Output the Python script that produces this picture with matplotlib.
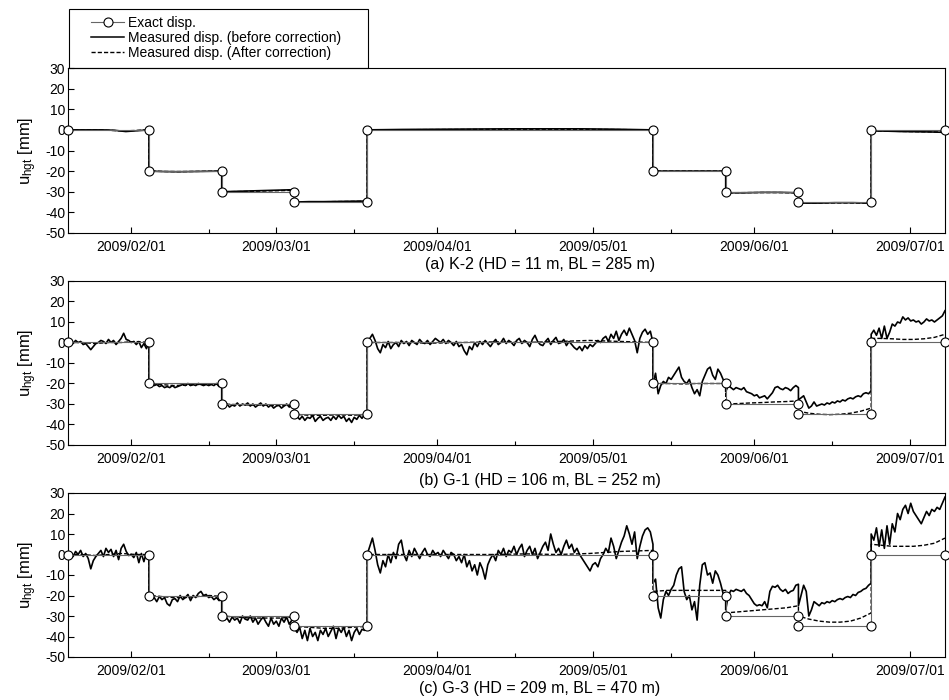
import numpy as np
import pandas as pd
import matplotlib
matplotlib.use('Agg')
import matplotlib.pyplot as plt
import matplotlib.dates as mdates
from matplotlib.lines import Line2D
from matplotlib.patches import Rectangle

plt.rcParams['font.family'] = ['Liberation Sans', 'DejaVu Sans']
plt.rcParams['mathtext.default'] = 'regular'
plt.rcParams['axes.unicode_minus'] = False

######################################################################
# data: load-step boundaries and exact displacement of each segment
######################################################################

step_times = ['2009-01-19 22:00', '2009-02-04 12:00', '2009-02-18 12:00',
              '2009-03-04 12:00', '2009-03-18 12:00', '2009-05-12 12:00',
              '2009-05-26 12:00', '2009-06-09 12:00', '2009-06-23 12:00',
              '2009-07-07 17:00']
exact_levels = [0, -20, -30, -35, 0, -20, -30, -35, 0]

titles = ['(a) K-2 (HD = 11 m, BL = 285 m)',
          '(b) G-1 (HD = 106 m, BL = 252 m)',
          '(c) G-3 (HD = 209 m, BL = 470 m)']

# K-2 measured (before / after correction), one list per segment
k2_before = [
    [0, 0, 0, 0, -0.2, -0.8, -0.4, 0],
    [-20, -20.2, -20.3, -20.2, -20.1, -20],
    [-30, -29.8, -29.6, -29.4, -29.2, -29],
    [-35, -34.8, -34.8, -34.7, -34.6, -34.5],
    [0, 0.2, 0.3, 0.4, 0.5, 0.5, 0.5, 0.3, 0],
    [-20, -20, -20, -20, -20],
    [-30.5, -30.5, -30.3, -30.3, -30.5],
    [-35.5, -35.5, -35.3, -35.3, -35.5],
    [-0.5, -0.6, -0.8, -0.9, -1.0, -1.2],
]
k2_after = [
    [0, 0, 0, -0.2, -0.5, -0.3, 0],
    [-20, -20.2, -20.2, -20.1, -20],
    [-30, -29.9, -29.7, -29.5, -29.3],
    [-35, -34.9, -34.8, -34.7, -34.6],
    [0, 0.1, 0.2, 0.3, 0.3, 0.2, 0],
    [-20, -20, -20, -20],
    [-30.5, -30.4, -30.4, -30.5],
    [-35.5, -35.4, -35.4, -35.5],
    [-0.5, -0.7, -0.9, -1.1],
]

# G-1 measured
g1_before = [
    [0, 0.5, -0.5, 1, 0, 0.5, -1, -0.5, -2, -3.5, -2, -0.5, 0, 1, 0.5, -0.5, 1.5,
     0, 1, -1, 0.5, 2, 4.5, 1.5, 1, 0, 0.5, -1, 0.5, -2.5, -0.5, -3, 0],
    [-20, -20.5, -21, -20.5, -21.5, -21, -22, -21.5, -22, -21, -22, -21.5, -21,
     -20.5, -21, -20, -21, -20.5, -21, -20, -20.5, -21, -20.5, -21, -20.5, -21,
     -20, -21.5, -20.5],
    [-30, -31, -30, -31.5, -30.5, -31, -29.5, -31, -30, -30.5, -29.5, -31, -30,
     -31.5, -30.5, -29.5, -31, -30, -31.5, -30.5, -32, -31, -30.5, -32, -31, -30,
     -31.5, -30.5, -30],
    [-35, -36, -37.5, -36, -38, -36.5, -37, -35.5, -38.5, -37, -36, -38, -37,
     -36.5, -38, -36, -37.5, -35.5, -37, -36, -38.5, -37, -39, -36.5, -37.5,
     -35.5, -37, -35, -35.5],
    [0, 2, 4, 1, -3, -5, -1, -2.5, 0.5, -3, -1, 0, -2, 1, -0.5, 0.5, -1.5, 1, 0,
     -1, 1.5, 0, -0.5, 1, -1, 0.5, 2,
     1, 0, 1.5, -0.5, 1, 0, -1.5, 0.5, -2, -1, -4, -6, -2, -3.5, 0, -2, 0.5, -1,
     1, -0.5, -2, 0, 1.5, -1, 0, 2, -0.5, 1,
     0, -1.5, 1, 2, -0.5, 1, 0, -2, 1.5, 3.5, 0.5, -1, -1.5, 0.5, 2, -1, 1, 2.5,
     -0.5, 0, 1.5, -1.5, 0.5, -1, -2.5, -3.5, -2, -4, -1.5, -3, -1, -2,
     -0.5, 1, 0, 2, 3, 0.5, 4, 2, 5.5, 1, 4, 6, 3.5, 7, 4, 1, -5, 2, 5, 6.5, 4,
     5.5, 0],
    [-20, -15, -25, -21, -19, -20, -17, -18, -16, -14, -12, -17, -19, -20, -18,
     -22, -25, -23, -26, -19, -16, -13, -12, -16, -18, -13, -15, -18, -20],
    [-24, -21, -22, -23, -22, -22.5, -23, -22, -24, -24.5, -25, -26, -25.5, -27,
     -26.5, -26, -27.5, -26, -24.5, -22, -21.5, -22.5, -23, -22, -22.5, -23.5,
     -22, -21, -22],
    [-28, -27, -26, -29, -32, -31, -29, -31, -30.5, -30, -30.5, -29.5, -30, -29,
     -29.5, -28.5, -29, -28, -28.5, -27.5, -27, -27.5, -26.5, -26, -26.5, -25,
     -24.5, -25, -23.5],
    [4, 6, 3.5, 7, 2, 8, 2, 5, 9, 8, 10, 9.5, 12.5, 11, 12, 10.5, 11, 10, 10.5,
     9, 10, 11.5, 10.5, 11, 10, 11, 12, 13, 15.5],
]
g1_after = [
    [0, 0, -0.5, 0, 0, 0.5, 0],
    [-20, -20.5, -21, -20.8, -20.5, -20.3, -20.5],
    [-30, -30.3, -30.5, -30.5, -30.8, -30.5],
    [-35, -35.5, -35.5, -35.3, -35.5, -35],
    [0, 0, -0.3, 0, 0.3, 0, 0.5, 1, 0.5, 0],
    [-20, -20, -20.2, -20, -20, -20],
    [-30, -29.8, -29.5, -29.3, -29, -28.8, -28.5],
    [-33.5, -34.5, -35, -35.2, -35, -34.5, -33.5, -32],
    [2, 2, 1.8, 1.5, 1.5, 1.8, 2.5, 4],
]

# G-3 measured
g3_before = [
    [0, 1, -1, 1.5, 0, 2, -1, 0.5, -2, -7, -3, -1, 0.5, 2, -1, 3, 1, 2.5, -1, 2,
     -2.5, 3, 5, 1.5, -0.5, 0, -1.5, 1, -4, 0.5, -3.5, 1, 0],
    [-20, -22, -21, -23, -20.5, -22, -21, -24, -25, -22, -21.5, -23, -20, -22,
     -21, -19.5, -22.5, -20, -21, -19, -18, -20, -19.5, -21, -20.5, -22, -21,
     -22.5, -21],
    [-30, -32, -31, -33, -30.5, -32, -31, -33.5, -30, -31.5, -32, -30, -33, -31,
     -34, -32, -30.5, -33, -35, -31, -34, -32.5, -35, -31, -33, -30.5, -34, -32,
     -31],
    [-36, -38, -35.5, -41, -37, -42, -36, -40, -38, -42, -37, -39, -36, -40,
     -37.5, -35, -41, -36, -38, -35.5, -40, -37, -42, -38, -36, -39, -36.5, -37,
     -35.5],
    [0, 4, 8, 2, -5, -9, -3, -6, 0, -4, 1, -2, 5, 7, 0, -3, 2, -1, 3, 0.5, -2, 1,
     3, 0, -1, 2, 0,
     1, -1, 2, 0, -2, 1, 0, -3, -1, -4, 0, -6, -3, -8, -5, -10, -4, -7, -12, -5,
     -2, 0, -3, 2, 0, 3, -1, 2,
     1, 4, 0, 3, 5, -1, 2, 4, 0, 3, -2, 1, 4, 6, 2, 10, 5, 1, 3, 0, 4, 7, 3, 5,
     1, 3, 0, -2, -4, -6, -8, -5,
     -4, -6, -2, 0, 3, 1, 8, 4, -2, 2, 6, 9, 14, 10, 5, 11, -2, 4, 9, 12, 13, 11,
     5],
    [-14, -12, -26, -31, -22, -18, -20, -17, -15, -10, -7, -6, -18, -22, -20,
     -27, -23, -32, -15, -5, -4, -10, -9, -14, -8, -10, -14, -19, -20],
    [-27, -20, -17.5, -18, -17, -17.5, -18, -17, -19, -20, -22, -24, -25, -24.5,
     -25, -23, -26, -18, -15.5, -16, -15, -17, -18, -17, -19, -18, -17.5, -15,
     -14.5],
    [-25, -20, -15, -18, -30, -27, -23, -24, -25, -23.5, -24, -23, -23.5, -22.5,
     -23, -22, -21.5, -22, -21, -20.5, -21, -19.5, -20, -18.5, -18, -17, -16.5,
     -15, -14],
    [10, 7, 13, 4, 12, 3, 14, 5, 15, 11, 20, 17, 22, 24, 20, 25, 21, 19, 17, 15,
     18, 21, 19, 22, 21, 23, 22, 25, 28],
]
g3_after = [
    [0, 0, -0.5, 0, 0.5, 0, 0],
    [-20, -20.5, -21, -21, -20.5, -20, -20.5],
    [-30, -30.5, -31, -31, -31, -30.5],
    [-35, -35.5, -36, -36, -35.5, -35],
    [0, 0, 0, 0, 0, 0.3, 0, 0.5, 1.5, 2],
    [-18, -17.5, -17.5, -17.5, -17.5, -17.5],
    [-28.5, -28, -27.5, -27, -26.5, -26, -25],
    [-30, -31.5, -32.5, -33, -33, -32.5, -31, -28.5],
    [5, 4.5, 4, 4, 4, 4.5, 5.5, 8],
]

######################################################################
# helpers
######################################################################

bounds = mdates.date2num(pd.to_datetime(step_times).to_pydatetime())

def segments_to_series(segs):
    t = []
    v = []
    for i in range(len(segs)):
        t.append(np.linspace(bounds[i], bounds[i+1], len(segs[i])))
        v.append(np.array(segs[i], dtype=float))
    return np.concatenate(t), np.concatenate(v)

ex_t = np.repeat(bounds, 2)[1:-1]
ex_v = np.repeat(exact_levels, 2)

exact_kw = dict(color='0.4', lw=0.8, marker='o', ms=6.5, mfc='white',
                mec='black', mew=0.8)

######################################################################
# figure
######################################################################

fig = plt.figure(figsize=(9.49, 7.0), dpi=100)
W, H = 949.0, 700.0
left = 68/W
width = 877/W
axes_px = [(68, 233), (281, 445), (493, 657)]
title_y = [265, 480, 688]
panels = [(k2_before, k2_after), (g1_before, g1_after), (g3_before, g3_after)]

for p in range(3):
    top, bot = axes_px[p]
    ax = fig.add_axes([left, 1-bot/H, width, (bot-top)/H])
    before, after = panels[p]
    tb, vb = segments_to_series(before)
    ta, va = segments_to_series(after)
    ax.plot(tb, vb, color='black', lw=1.2, zorder=3)
    ax.plot(ta, va, color='black', lw=1.0, ls=(0, (3, 1.5)), zorder=3)
    ax.plot(ex_t, ex_v, zorder=4, clip_on=False, **exact_kw)

    ax.set_xlim(bounds[0], bounds[-1])
    ax.set_ylim(-50, 30)
    ax.set_yticks(np.arange(-50, 31, 10))
    ax.xaxis.set_major_locator(mdates.MonthLocator(bymonthday=1))
    ax.xaxis.set_minor_locator(mdates.MonthLocator(bymonthday=16))
    ax.xaxis.set_major_formatter(mdates.DateFormatter('%Y/%m/%d'))
    ax.tick_params(axis='both', which='major', direction='in', length=4,
                   labelsize=10, width=0.8)
    ax.tick_params(axis='x', which='minor', direction='in', length=3, width=0.8)
    ax.tick_params(axis='x', which='major', pad=5)
    ax.tick_params(axis='y', which='major', pad=2)
    for s in ax.spines.values():
        s.set_linewidth(0.8)
    ax.set_ylabel(r'u$_{hgt}$ [mm]', fontsize=12, labelpad=4)
    fig.text(540/W, 1-title_y[p]/H, titles[p], fontsize=11.5,
             ha='center', va='center')

# legend with its own box above panel (a)
handles = [Line2D([], [], **exact_kw),
           Line2D([], [], color='black', lw=1.1),
           Line2D([], [], color='black', lw=1.0, ls=(0, (3, 1.5)))]
labels = ['Exact disp.', 'Measured disp. (before correction)',
          'Measured disp. (After correction)']
fig.legend(handles, labels, loc='upper left', bbox_to_anchor=(91/W, 1-16/H),
           frameon=False, fontsize=10, handlelength=2.4, handletextpad=0.3,
           labelspacing=0.08, borderpad=0, borderaxespad=0)
fig.patches.append(Rectangle((69/W, 1-68/H), 299/W, 59/H, transform=fig.transFigure,
                             fill=False, ec='black', lw=0.8))

plt.savefig('out.png', dpi=100)
